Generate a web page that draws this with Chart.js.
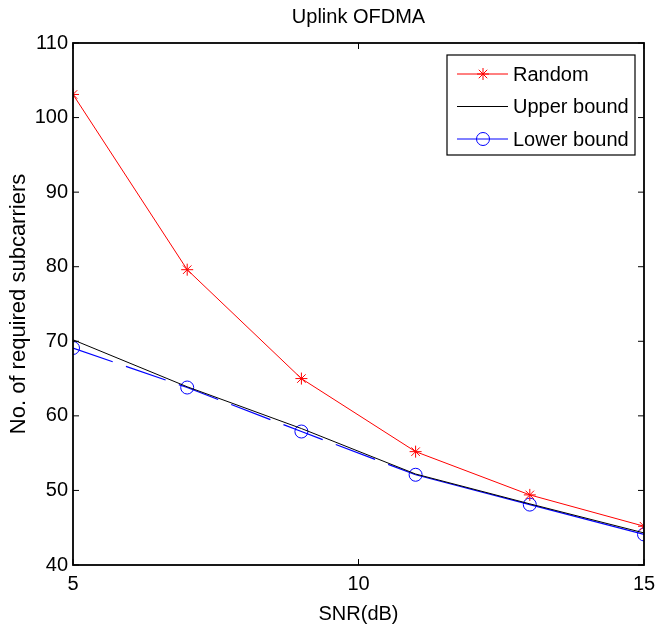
<!DOCTYPE html>
<html>
<head>
<meta charset="utf-8">
<script src="https://cdn.jsdelivr.net/npm/chart.js@4"></script>
<style>
  html, body { margin: 0; padding: 0; background: #fff; }
  #wrap { width: 655px; height: 633px; position: relative; }
</style>
</head>
<body>
<div id="wrap"><canvas id="grafico"></canvas></div>
<script>
// SNR (dB) values
const snr = [5, 7, 9, 11, 13, 15];
// required subcarriers per scheme
const random = [103.1, 79.6, 65.0, 55.2, 49.4, 45.2];
const upperBound = [70.2, 63.9, 58.3, 52.2, 48.2, 44.3];
const lowerBound = [69.1, 63.8, 57.9, 52.1, 48.1, 44.1];
const xTicks = [5, 10, 15];
const yTicks = [40, 50, 60, 70, 80, 90, 100, 110];

const fontFam = '"Liberation Sans", Arial, sans-serif';

const toPts = (ys) => snr.map((x, i) => ({ x: x, y: ys[i] }));

// frame, inward ticks, title and legend box drawn like MATLAB
const matlabLook = {
    id: 'matlabLook',
    afterDatasetsDraw(chart) {
        const { ctx, chartArea: a, scales } = chart;
        ctx.save();
        ctx.strokeStyle = '#000';
        ctx.lineWidth = 1.8;
        ctx.strokeRect(a.left, a.top, a.right - a.left, a.bottom - a.top);
        ctx.lineWidth = 1;
        ctx.beginPath();
        xTicks.forEach(v => {
            const px = scales.x.getPixelForValue(v);
            ctx.moveTo(px, a.bottom); ctx.lineTo(px, a.bottom - 6);
            ctx.moveTo(px, a.top); ctx.lineTo(px, a.top + 6);
        });
        yTicks.forEach(v => {
            const py = scales.y.getPixelForValue(v);
            ctx.moveTo(a.left, py); ctx.lineTo(a.left + 6, py);
            ctx.moveTo(a.right, py); ctx.lineTo(a.right - 6, py);
        });
        ctx.stroke();

        // title
        ctx.fillStyle = '#000';
        ctx.font = '20px ' + fontFam;
        ctx.textAlign = 'center';
        ctx.textBaseline = 'middle';
        ctx.fillText('Uplink OFDMA', (a.left + a.right) / 2, 17);

        // legend
        const bx = a.right - 197, by = 55, bw = 188, bh = 100;
        ctx.fillStyle = '#fff';
        ctx.fillRect(bx, by, bw, bh);
        ctx.strokeStyle = '#000';
        ctx.lineWidth = 1.2;
        ctx.strokeRect(bx, by, bw, bh);
        ctx.font = '20px ' + fontFam;
        ctx.textAlign = 'left';
        chart.data.datasets.forEach((ds, i) => {
            const ly = by + 19 + i * 32.5;
            ctx.strokeStyle = ds.borderColor;
            ctx.lineWidth = 1;
            ctx.beginPath();
            ctx.moveTo(bx + 10, ly); ctx.lineTo(bx + 61, ly);
            ctx.stroke();
            if (ds.pointRadius > 0) {
                ctx.fillStyle = 'rgba(0,0,0,0)';
                ctx.strokeStyle = ds.borderColor;
                Chart.helpers.drawPoint(ctx, {
                    pointStyle: ds.pointStyle, radius: ds.pointRadius,
                    borderWidth: 1
                }, bx + 36, ly);
            }
            ctx.fillStyle = '#000';
            ctx.fillText(ds.label, bx + 66, ly + 1);
        });
        ctx.restore();
    }
};

const ctx = document.getElementById('grafico').getContext('2d');

new Chart(ctx, {
    type: 'line',
    data: {
        datasets: [{
            label: 'Random',
            data: toPts(random),
            borderColor: '#ff0000',
            backgroundColor: '#ff0000',
            borderWidth: 1,
            pointStyle: 'star',
            pointRadius: 6,
            pointBorderWidth: 1,
            tension: 0
        },
        {
            label: 'Upper bound',
            data: toPts(upperBound),
            borderColor: '#000000',
            borderWidth: 1,
            pointRadius: 0,
            tension: 0
        },
        {
            label: 'Lower bound',
            data: toPts(lowerBound),
            borderColor: '#0000ff',
            backgroundColor: 'rgba(0,0,0,0)',
            borderWidth: 1.2,
            pointStyle: 'circle',
            pointRadius: 6.5,
            pointBorderWidth: 1,
            tension: 0,
            segment: {
                borderDash: c => c.p0.parsed.x < 11 ? [42, 14] : undefined
            }
        }]
    },
    options: {
        responsive: true,
        maintainAspectRatio: false,
        animation: false,
        layout: { padding: { top: 43, right: 11, left: 0, bottom: 0 } },
        plugins: {
            legend: { display: false },
            title: { display: false },
            tooltip: { enabled: false }
        },
        scales: {
            x: {
                type: 'linear',
                min: 5,
                max: 15,
                afterBuildTicks: s => { s.ticks = xTicks.map(v => ({ value: v })); },
                afterFit: s => { s.height = 68; s.paddingRight = 0; s.paddingLeft = 0; },
                grid: { display: false, drawTicks: false },
                border: { display: false },
                ticks: {
                    color: '#000',
                    padding: 7,
                    maxRotation: 0,
                    font: { size: 20, family: fontFam }
                },
                title: {
                    display: true,
                    text: 'SNR(dB)',
                    color: '#000',
                    padding: { top: 0, bottom: 7 },
                    font: { size: 20, family: fontFam }
                }
            },
            y: {
                min: 40,
                max: 110,
                afterBuildTicks: s => { s.ticks = yTicks.map(v => ({ value: v })); },
                afterFit: s => { s.width = 73; },
                grid: { display: false, drawTicks: false },
                border: { display: false },
                ticks: {
                    color: '#000',
                    padding: 5,
                    font: { size: 20, family: fontFam }
                },
                title: {
                    display: true,
                    text: 'No. of required subcarriers',
                    color: '#000',
                    padding: { top: 6, bottom: 0 },
                    font: { size: 22, family: fontFam }
                }
            }
        }
    },
    plugins: [matlabLook]
});
</script>
</body>
</html>
